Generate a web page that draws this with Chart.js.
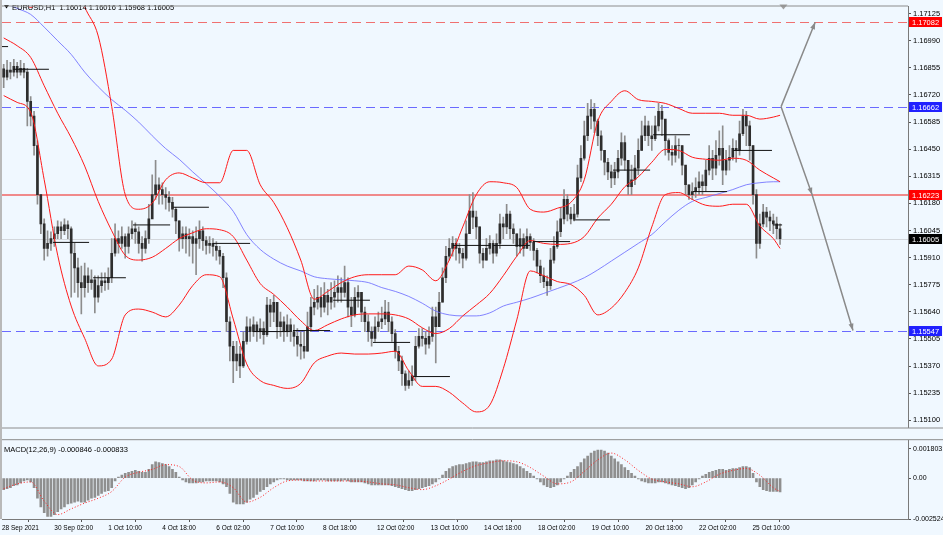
<!DOCTYPE html>
<html>
<head>
<meta charset="utf-8">
<title>EURUSD,H1</title>
<script src="https://cdn.jsdelivr.net/npm/chart.js@4.4.1/dist/chart.umd.min.js"></script>
<style>
  html, body { margin: 0; padding: 0; background: #f0f8ff; }
  #wrap { position: relative; width: 943px; height: 535px; overflow: hidden; background: #f0f8ff; }
  #wrap canvas { position: absolute; left: 0; }
  #priceChart { top: 0; }
  #macdChart { top: 434px; }
  #edge { position: absolute; left: 0; top: 0; width: 2px; height: 519px; background: #b9b9b9; }
</style>
</head>
<body>
<div id="wrap">
  <canvas id="priceChart" width="943" height="434"></canvas>
  <canvas id="macdChart" width="943" height="101"></canvas>
  <div id="edge"></div>
</div>
<script>
const closes = [
  1.16809, 1.16844, 1.16834, 1.16863, 1.16834, 1.16853, 1.16834, 1.16688, 1.16615, 1.16468,
  1.16224, 1.16078, 1.15956, 1.15981, 1.16005, 1.16029, 1.16063, 1.16044, 1.16073, 1.16054,
  1.15932, 1.15859, 1.15786, 1.15761, 1.15820, 1.15786, 1.15800, 1.15713, 1.15771, 1.15795,
  1.15786, 1.15810, 1.15932, 1.16005, 1.15981, 1.16015, 1.15966, 1.16029, 1.16054, 1.16039,
  1.15981, 1.15956, 1.16005, 1.16103, 1.16224, 1.16273, 1.16249, 1.16224, 1.16210, 1.16185,
  1.16151, 1.16093, 1.16005, 1.16029, 1.16005, 1.16015, 1.15981, 1.16005, 1.16044, 1.15995,
  1.15971, 1.15981, 1.15966, 1.15946, 1.15917, 1.15810, 1.15591, 1.15469, 1.15396, 1.15430,
  1.15371, 1.15493, 1.15566, 1.15542, 1.15576, 1.15542, 1.15557, 1.15527, 1.15674, 1.15639,
  1.15688, 1.15566, 1.15591, 1.15542, 1.15576, 1.15542, 1.15518, 1.15479, 1.15469, 1.15444,
  1.15566, 1.15664, 1.15688, 1.15713, 1.15664, 1.15722, 1.15688, 1.15713, 1.15737, 1.15761,
  1.15737, 1.15786, 1.15664, 1.15625, 1.15713, 1.15737, 1.15639, 1.15591, 1.15542, 1.15508,
  1.15566, 1.15591, 1.15605, 1.15639, 1.15591, 1.15532, 1.15444, 1.15396, 1.15332, 1.15274,
  1.15298, 1.15323, 1.15469, 1.15518, 1.15508, 1.15479, 1.15518, 1.15615, 1.15566, 1.15688,
  1.15810, 1.15917, 1.15956, 1.15981, 1.15956, 1.15932, 1.15908, 1.16029, 1.16142, 1.16112,
  1.16063, 1.15932, 1.15898, 1.15956, 1.15981, 1.15932, 1.15981, 1.16078, 1.16063, 1.16127,
  1.16054, 1.16029, 1.15966, 1.16005, 1.15956, 1.16015, 1.15986, 1.15946, 1.15868, 1.15820,
  1.15791, 1.15771, 1.15898, 1.15966, 1.16039, 1.16103, 1.16200, 1.16127, 1.16103, 1.16127,
  1.16307, 1.16405, 1.16517, 1.16615, 1.16649, 1.16590, 1.16517, 1.16444, 1.16385, 1.16337,
  1.16307, 1.16337, 1.16405, 1.16483, 1.16395, 1.16263, 1.16298, 1.16356, 1.16444, 1.16517,
  1.16566, 1.16517, 1.16502, 1.16566, 1.16639, 1.16600, 1.16493, 1.16434, 1.16420, 1.16468,
  1.16468, 1.16371, 1.16273, 1.16224, 1.16239, 1.16259, 1.16288, 1.16268, 1.16346, 1.16405,
  1.16356, 1.16420, 1.16454, 1.16346, 1.16395, 1.16410, 1.16454, 1.16444, 1.16527, 1.16615,
  1.16566, 1.16468, 1.16224, 1.15981, 1.16078, 1.16137, 1.16112, 1.16093, 1.16078, 1.16054, 1.16005
];
const highs = [
  1.16873, 1.16892, 1.16883, 1.16897, 1.16883, 1.16892, 1.16878, 1.16853, 1.16712, 1.16639,
  1.16493, 1.16224, 1.16103, 1.16044, 1.16039, 1.16063, 1.16093, 1.16088, 1.16103, 1.16093,
  1.16063, 1.15981, 1.15908, 1.15868, 1.15883, 1.15859, 1.15849, 1.15820, 1.15820, 1.15834,
  1.15834, 1.15859, 1.16005, 1.16078, 1.16044, 1.16063, 1.16029, 1.16063, 1.16093, 1.16083,
  1.16063, 1.16015, 1.16044, 1.16176, 1.16322, 1.16395, 1.16307, 1.16283, 1.16259, 1.16239,
  1.16210, 1.16161, 1.16093, 1.16063, 1.16063, 1.16054, 1.16044, 1.16063, 1.16093, 1.16063,
  1.16015, 1.16015, 1.16005, 1.15990, 1.15966, 1.15932, 1.15834, 1.15615, 1.15493, 1.15493,
  1.15469, 1.15542, 1.15615, 1.15605, 1.15615, 1.15591, 1.15605, 1.15591, 1.15713, 1.15703,
  1.15722, 1.15688, 1.15639, 1.15615, 1.15625, 1.15605, 1.15576, 1.15557, 1.15542, 1.15542,
  1.15639, 1.15713, 1.15752, 1.15771, 1.15761, 1.15786, 1.15752, 1.15786, 1.15795, 1.15820,
  1.15810, 1.15868, 1.15810, 1.15713, 1.15761, 1.15771, 1.15737, 1.15664, 1.15625, 1.15566,
  1.15615, 1.15639, 1.15664, 1.15698, 1.15688, 1.15615, 1.15552, 1.15469, 1.15420, 1.15347,
  1.15347, 1.15371, 1.15518, 1.15557, 1.15557, 1.15542, 1.15566, 1.15664, 1.15664, 1.15737,
  1.15859, 1.15966, 1.16005, 1.16015, 1.16005, 1.15981, 1.15956, 1.16093, 1.16224, 1.16234,
  1.16142, 1.16063, 1.15956, 1.16005, 1.16020, 1.15995, 1.16029, 1.16127, 1.16112, 1.16176,
  1.16142, 1.16078, 1.16029, 1.16054, 1.16029, 1.16054, 1.16029, 1.16005, 1.15956, 1.15898,
  1.15859, 1.15820, 1.15956, 1.16015, 1.16093, 1.16161, 1.16249, 1.16224, 1.16161, 1.16176,
  1.16371, 1.16468, 1.16590, 1.16678, 1.16697, 1.16678, 1.16600, 1.16541, 1.16444, 1.16405,
  1.16371, 1.16385, 1.16444, 1.16532, 1.16517, 1.16395, 1.16371, 1.16420, 1.16502, 1.16590,
  1.16615, 1.16590, 1.16566, 1.16615, 1.16678, 1.16668, 1.16590, 1.16502, 1.16468, 1.16517,
  1.16502, 1.16468, 1.16356, 1.16273, 1.16283, 1.16307, 1.16337, 1.16322, 1.16395, 1.16468,
  1.16444, 1.16493, 1.16541, 1.16566, 1.16444, 1.16468, 1.16502, 1.16493, 1.16590, 1.16649,
  1.16639, 1.16590, 1.16468, 1.16249, 1.16127, 1.16176, 1.16161, 1.16142, 1.16127, 1.16112, 1.16078
];
const lows = [
  1.16756, 1.16795, 1.16800, 1.16814, 1.16805, 1.16819, 1.16805, 1.16566, 1.16566, 1.16420,
  1.16176, 1.16029, 1.15898, 1.15917, 1.15946, 1.15966, 1.16005, 1.16005, 1.16024, 1.16005,
  1.15713, 1.15737, 1.15713, 1.15630, 1.15713, 1.15737, 1.15752, 1.15635, 1.15688, 1.15737,
  1.15747, 1.15752, 1.15786, 1.15917, 1.15932, 1.15956, 1.15908, 1.15932, 1.16005, 1.15981,
  1.15932, 1.15893, 1.15932, 1.15981, 1.16127, 1.16200, 1.16176, 1.16176, 1.16151, 1.16142,
  1.16112, 1.16029, 1.15942, 1.15956, 1.15932, 1.15917, 1.15883, 1.15825, 1.15956, 1.15946,
  1.15927, 1.15932, 1.15917, 1.15898, 1.15878, 1.15761, 1.15542, 1.15396, 1.15288, 1.15347,
  1.15313, 1.15362, 1.15479, 1.15493, 1.15518, 1.15493, 1.15508, 1.15479, 1.15518, 1.15566,
  1.15591, 1.15508, 1.15518, 1.15493, 1.15518, 1.15493, 1.15469, 1.15420, 1.15405, 1.15410,
  1.15444, 1.15542, 1.15625, 1.15654, 1.15615, 1.15639, 1.15625, 1.15654, 1.15664, 1.15688,
  1.15688, 1.15713, 1.15615, 1.15566, 1.15615, 1.15664, 1.15591, 1.15542, 1.15493, 1.15469,
  1.15493, 1.15542, 1.15557, 1.15576, 1.15542, 1.15493, 1.15410, 1.15347, 1.15274, 1.15249,
  1.15259, 1.15274, 1.15298, 1.15459, 1.15469, 1.15430, 1.15459, 1.15493, 1.15386, 1.15591,
  1.15688, 1.15786, 1.15898, 1.15917, 1.15898, 1.15883, 1.15859, 1.15898, 1.16044, 1.16054,
  1.16005, 1.15883, 1.15859, 1.15898, 1.15927, 1.15883, 1.15917, 1.15956, 1.16005, 1.16029,
  1.16005, 1.15981, 1.15917, 1.15932, 1.15917, 1.15956, 1.15946, 1.15898, 1.15834, 1.15786,
  1.15761, 1.15722, 1.15752, 1.15883, 1.15956, 1.16015, 1.16078, 1.16093, 1.16078, 1.16093,
  1.16112, 1.16288, 1.16395, 1.16493, 1.16551, 1.16532, 1.16468, 1.16395, 1.16322, 1.16298,
  1.16259, 1.16273, 1.16307, 1.16371, 1.16346, 1.16224, 1.16224, 1.16273, 1.16322, 1.16444,
  1.16493, 1.16468, 1.16444, 1.16493, 1.16541, 1.16517, 1.16420, 1.16395, 1.16371, 1.16385,
  1.16405, 1.16322, 1.16224, 1.16200, 1.16200, 1.16210, 1.16224, 1.16224, 1.16239, 1.16322,
  1.16298, 1.16322, 1.16371, 1.16273, 1.16322, 1.16346, 1.16395, 1.16385, 1.16420, 1.16517,
  1.16468, 1.16395, 1.16176, 1.15908, 1.15956, 1.16063, 1.16063, 1.16044, 1.16029, 1.16005, 1.15976
];
const firstOpen = 1.16850;

// indicator lines, read every 4th bar
const bandPos = [0,4,8,12,16,20,24,28,32,36,40,44,48,52,56,60,64,68,72,76,80,84,88,92,96,100,104,108,112,116,
  120,124,128,132,136,140,144,148,152,156,160,164,168,172,176,180,184,188,192,196,200,204,208,212,216,220,224,228,230];
const upperBand = [1.17282, 1.17234, 1.17156, 1.17224, 1.17336, 1.17370, 1.17160, 1.17014, 1.16663, 1.16224,
  1.16151, 1.16181, 1.16298, 1.16332, 1.16307, 1.16283, 1.16283, 1.16444, 1.16444, 1.16273,
  1.16185, 1.16059, 1.15898, 1.15703, 1.15742, 1.15786, 1.15815, 1.15825, 1.15825, 1.15825,
  1.15868, 1.15849, 1.15795, 1.15898, 1.16063, 1.16224, 1.16288, 1.16283, 1.16259, 1.16151,
  1.16137, 1.16156, 1.16185, 1.16298, 1.16590, 1.16688, 1.16741, 1.16697, 1.16688, 1.16678,
  1.16653, 1.16629, 1.16629, 1.16629, 1.16619, 1.16619, 1.16600, 1.16610, 1.16619];
const middleBand = [1.17004, 1.16965, 1.16907, 1.16766, 1.16629, 1.16507, 1.16366, 1.16190, 1.16044, 1.15922,
  1.15898, 1.15912, 1.15956, 1.16005, 1.16034, 1.16054, 1.16049, 1.16015, 1.15898, 1.15781,
  1.15727, 1.15664, 1.15596, 1.15547, 1.15576, 1.15605, 1.15625, 1.15630, 1.15630, 1.15625,
  1.15605, 1.15561, 1.15532, 1.15557, 1.15620, 1.15674, 1.15732, 1.15820, 1.15917, 1.15995,
  1.15981, 1.15976, 1.15981, 1.16015, 1.16107, 1.16176, 1.16263, 1.16312, 1.16385, 1.16449,
  1.16444, 1.16410, 1.16400, 1.16395, 1.16405, 1.16395, 1.16346, 1.16307, 1.16288];
const lowerBand = [1.16717, 1.16683, 1.16634, 1.16298, 1.15922, 1.15669, 1.15508, 1.15371, 1.15405, 1.15625,
  1.15654, 1.15639, 1.15615, 1.15674, 1.15771, 1.15825, 1.15815, 1.15605, 1.15381, 1.15298,
  1.15274, 1.15259, 1.15284, 1.15386, 1.15420, 1.15435, 1.15430, 1.15430, 1.15435, 1.15444,
  1.15347, 1.15269, 1.15269, 1.15240, 1.15186, 1.15142, 1.15176, 1.15357, 1.15600, 1.15844,
  1.15820, 1.15791, 1.15776, 1.15722, 1.15625, 1.15659, 1.15737, 1.15859, 1.16063, 1.16224,
  1.16234, 1.16200, 1.16171, 1.16166, 1.16176, 1.16176, 1.16068, 1.16005, 1.15956];
const maLine = [1.17180, 1.17151, 1.17121, 1.17058, 1.16990, 1.16922, 1.16834, 1.16761, 1.16697, 1.16644,
  1.16585, 1.16517, 1.16453, 1.16400, 1.16337, 1.16278, 1.16215, 1.16141, 1.16025, 1.15951,
  1.15903, 1.15868, 1.15844, 1.15815, 1.15805, 1.15800, 1.15795, 1.15786, 1.15761, 1.15742,
  1.15717, 1.15683, 1.15644, 1.15625, 1.15620, 1.15620, 1.15635, 1.15669, 1.15688, 1.15708,
  1.15732, 1.15756, 1.15781, 1.15810, 1.15849, 1.15893, 1.15937, 1.15981, 1.16025, 1.16088,
  1.16146, 1.16190, 1.16210, 1.16229, 1.16249, 1.16273, 1.16283, 1.16288, 1.16288];

// daily open segments (bar positions) and their level
const dayStart = [-0.5, 2.8, 14.6, 26.5, 38.3, 50.2, 62.0, 73.9, 85.7, 97.6, 109.4, 121.3, 133.1, 145.0, 156.8, 168.7, 180.5, 192.4, 204.2, 216.1, 227.9];
const dayEnd   = [1.3, 13.4, 25.3, 36.2, 49.3, 60.8, 73.0, 84.8, 96.7, 108.5, 120.4, 132.2, 144.1, 155.9, 167.8, 179.6, 191.5, 203.3, 214.3, 227.6, 230.6];
const dayOpen  = [1.16961, 1.16848, 1.15986, 1.15810, 1.16073, 1.16161, 1.15981, 1.15542, 1.15547, 1.15698, 1.15488,
  1.15318, 1.15971, 1.15971, 1.15990, 1.16098, 1.16346, 1.16522, 1.16239, 1.16444, 1.16073];

// horizontal levels and the drawn arrows
const levelPrices = [1.17082, 1.16662, 1.16223, 1.16005, 1.15547];
const arrowFromTime  = [230.3, 230.3, 239.5];
const arrowFromPrice = [1.16662, 1.16662, 1.16223];
const arrowToTime    = [240.4, 239.5, 251.6];
const arrowToPrice   = [1.17082, 1.16223, 1.15547];
const chartShiftTime = 231;

// MACD(12,26,9)
const macdHist = [
  -0.000712, -0.000652, -0.000593, -0.000474, -0.000415, -0.000297, -0.000178, -0.000119, -0.000237, -0.000593,
  -0.001245, -0.001779, -0.002135, -0.002372, -0.002372, -0.002253, -0.002076, -0.001898, -0.001779, -0.001601,
  -0.001542, -0.001483, -0.001423, -0.001483, -0.001483, -0.001364, -0.001245, -0.001186, -0.001067, -0.000949,
  -0.000830, -0.000771, -0.000593, -0.000178, 0.000059, 0.000178, 0.000297, 0.000356, 0.000415, 0.000474,
  0.000415, 0.000356, 0.000356, 0.000534, 0.000830, 0.001008, 0.000949, 0.000890, 0.000830, 0.000712,
  0.000534, 0.000356, 0.000059, -0.000119, -0.000237, -0.000297, -0.000297, -0.000297, -0.000237, -0.000237,
  -0.000178, -0.000178, -0.000178, -0.000178, -0.000237, -0.000356, -0.000534, -0.000949, -0.001483, -0.001601,
  -0.001601, -0.001601, -0.001483, -0.001305, -0.001186, -0.001008, -0.000830, -0.000712, -0.000534, -0.000356,
  -0.000237, -0.000119, -0.000059, -0.000059, -0.000119, -0.000119, -0.000119, -0.000119, -0.000119, -0.000178,
  -0.000178, -0.000178, -0.000178, -0.000119, -0.000119, -0.000119, -0.000178, -0.000178, -0.000178, -0.000178,
  -0.000178, -0.000119, -0.000178, -0.000237, -0.000237, -0.000237, -0.000237, -0.000297, -0.000356, -0.000415,
  -0.000415, -0.000415, -0.000415, -0.000415, -0.000415, -0.000474, -0.000534, -0.000593, -0.000652, -0.000712,
  -0.000771, -0.000771, -0.000712, -0.000652, -0.000593, -0.000534, -0.000474, -0.000356, -0.000237, -0.000059,
  0.000178, 0.000415, 0.000593, 0.000712, 0.000771, 0.000830, 0.000830, 0.000890, 0.000949, 0.001008,
  0.001008, 0.000949, 0.000949, 0.001008, 0.001067, 0.001067, 0.001126, 0.001126, 0.001067, 0.001008,
  0.000949, 0.000890, 0.000830, 0.000712, 0.000593, 0.000415, 0.000297, 0.000119, -0.000059, -0.000237,
  -0.000415, -0.000534, -0.000593, -0.000534, -0.000415, -0.000237, -0.000059, 0.000119, 0.000356, 0.000534,
  0.000712, 0.000949, 0.001186, 0.001364, 0.001542, 0.001660, 0.001720, 0.001720, 0.001660, 0.001542,
  0.001364, 0.001186, 0.001008, 0.000830, 0.000652, 0.000474, 0.000297, 0.000119, -0.000059, -0.000178,
  -0.000237, -0.000297, -0.000297, -0.000297, -0.000237, -0.000237, -0.000297, -0.000356, -0.000415, -0.000474,
  -0.000534, -0.000593, -0.000652, -0.000593, -0.000415, -0.000237, -0.000059, 0.000119, 0.000237, 0.000356,
  0.000415, 0.000474, 0.000534, 0.000534, 0.000474, 0.000534, 0.000593, 0.000593, 0.000652, 0.000712,
  0.000712, 0.000652, 0.000297, -0.000237, -0.000534, -0.000712, -0.000771, -0.000830, -0.000830, -0.000830, -0.000846
];
const macdSignal = [-0.000652, -0.000356, -0.000237, -0.001423, -0.002253, -0.001898, -0.001542, -0.001245, -0.000830, 0.000059,
  0.000356, 0.000534, 0.000830, 0.000712, -0.000119, -0.000297, -0.000237, -0.000593, -0.001483, -0.001186,
  -0.000593, -0.000178, -0.000119, -0.000178, -0.000178, -0.000178, -0.000178, -0.000237, -0.000356, -0.000415,
  -0.000593, -0.000712, -0.000474, -0.000059, 0.000415, 0.000771, 0.000949, 0.001067, 0.001008, 0.000652,
  0.000119, -0.000356, -0.000237, 0.000415, 0.001126, 0.001542, 0.001126, 0.000474, -0.000059, -0.000237,
  -0.000356, -0.000534, -0.000237, 0.000237, 0.000474, 0.000593, 0.000178, -0.000593, -0.000833];

// axes
const priceTicks = [1.17125, 1.16990, 1.16855, 1.16720, 1.16585, 1.16450, 1.16315, 1.16180, 1.16045,
  1.15910, 1.15775, 1.15640, 1.15505, 1.15370, 1.15235, 1.15100];
const macdTicks = [0.001803, 0, -0.002524];
const macdTickLabels = ['0.001803', '0.00', '-0.002524'];
const timeTickPos = [-0.5, 15, 31, 47, 63, 79, 94.6, 110.6, 126.5, 142.3, 158.3, 174.2, 190.1, 206, 221.8];
const timeLabels = ['28 Sep 2021', '30 Sep 02:00', '1 Oct 10:00', '4 Oct 18:00', '6 Oct 02:00', '7 Oct 10:00',
  '8 Oct 18:00', '12 Oct 02:00', '13 Oct 10:00', '14 Oct 18:00', '18 Oct 02:00', '19 Oct 10:00',
  '20 Oct 18:00', '22 Oct 02:00', '25 Oct 10:00'];
const headerText = 'EURUSD,H1  1.16014 1.16016 1.15968 1.16005';
const macdTitle = 'MACD(12,26,9) -0.000846 -0.000833';

// ---- styling ----
const FONT = '"Liberation Sans", Arial, sans-serif';
const X_MIN = -0.5, X_MAX = 267.9;
const levelStyle = [
  { color: '#f07070', width: 1, dash: [9, 5], box: '#ff0000' },
  { color: '#6a6aff', width: 1, dash: [9, 5], box: '#2020ff' },
  { color: 'rgba(240,110,110,0.8)', width: 2, dash: [], box: '#ff0000' },
  { color: '#d3d7dc', width: 1, dash: [], box: '#000000' },
  { color: '#6a6aff', width: 1, dash: [9, 5], box: '#2020ff' }
];

const wickData = highs.map((h, i) => ({ x: i, y: [lows[i], h] }));
const bodyData = closes.map((c, i) => ({ x: i, y: [i === 0 ? firstOpen : closes[i - 1], c] }));
const lineOf = arr => bandPos.map((x, i) => ({ x: x, y: arr[i] }));
const dayData = [];
dayStart.forEach((s, i) => {
  dayData.push({ x: s, y: dayOpen[i] }, { x: dayEnd[i], y: dayOpen[i] }, { x: dayEnd[i], y: null });
});
const arrowData = [];
arrowFromTime.forEach((t, i) => {
  arrowData.push({ x: t, y: arrowFromPrice[i] }, { x: arrowToTime[i], y: arrowToPrice[i] }, { x: arrowToTime[i], y: null });
});

function redLine(label, arr) {
  return { type: 'line', label: label, data: lineOf(arr), borderColor: '#ff1a1a', borderWidth: 1,
    pointRadius: 0, cubicInterpolationMode: 'monotone' };
}

const priceDecor = {
  id: 'priceDecor',
  beforeDatasetsDraw(chart) {
    const { ctx, chartArea: a, scales: { y } } = chart;
    ctx.save();
    levelPrices.forEach((p, i) => {
      const st = levelStyle[i];
      const py = Math.round(y.getPixelForValue(p)) + (st.width % 2 ? 0.5 : 0);
      ctx.strokeStyle = st.color;
      ctx.lineWidth = st.width;
      ctx.setLineDash(st.dash);
      ctx.beginPath(); ctx.moveTo(a.left, py); ctx.lineTo(a.right, py); ctx.stroke();
    });
    ctx.restore();
  },
  afterDatasetsDraw(chart) {
    const { ctx, chartArea: a, scales: { x, y } } = chart;
    ctx.save();
    // arrow heads
    ctx.fillStyle = '#8a8a8a';
    arrowToTime.forEach((t, i) => {
      const x1 = x.getPixelForValue(arrowFromTime[i]), y1 = y.getPixelForValue(arrowFromPrice[i]);
      const x2 = x.getPixelForValue(t), y2 = y.getPixelForValue(arrowToPrice[i]);
      const ang = Math.atan2(y2 - y1, x2 - x1);
      ctx.beginPath();
      ctx.moveTo(x2, y2);
      ctx.lineTo(x2 - 7 * Math.cos(ang) + 2.5 * Math.sin(ang), y2 - 7 * Math.sin(ang) - 2.5 * Math.cos(ang));
      ctx.lineTo(x2 - 7 * Math.cos(ang) - 2.5 * Math.sin(ang), y2 - 7 * Math.sin(ang) + 2.5 * Math.cos(ang));
      ctx.closePath(); ctx.fill();
    });
    // chart shift marker
    const sx = x.getPixelForValue(chartShiftTime);
    ctx.fillStyle = '#a0a0a0';
    ctx.beginPath(); ctx.moveTo(sx - 4, a.top - 2); ctx.lineTo(sx + 4, a.top - 2); ctx.lineTo(sx, a.top + 3); ctx.closePath(); ctx.fill();
    // header
    ctx.fillStyle = '#000';
    ctx.font = '7.5px ' + FONT;
    ctx.textBaseline = 'middle';
    ctx.beginPath(); ctx.moveTo(4, 5); ctx.lineTo(9, 5); ctx.lineTo(6.5, 8.5); ctx.closePath(); ctx.fill();
    ctx.fillText(headerText, 12, 7.5);
    ctx.restore();
  },
  afterDraw(chart) {
    const { ctx, chartArea: a, scales: { y } } = chart;
    ctx.save();
    ctx.strokeStyle = '#8c8c8c'; ctx.lineWidth = 1;
    ctx.beginPath();
    ctx.moveTo(a.left, a.top - 0.5); ctx.lineTo(a.right, a.top - 0.5);
    ctx.moveTo(a.left, a.bottom + 0.5); ctx.lineTo(a.right + 35, a.bottom + 0.5);
    ctx.stroke();
    ctx.font = '7.5px ' + FONT;
    ctx.textBaseline = 'middle';
    levelPrices.forEach((p, i) => {
      const py = Math.round(y.getPixelForValue(p));
      ctx.fillStyle = levelStyle[i].box;
      ctx.fillRect(a.right + 1, py - 5, 33, 10);
      ctx.fillStyle = '#fff';
      ctx.fillText(p.toFixed(5), a.right + 4, py + 0.5);
    });
    ctx.restore();
  }
};

new Chart(document.getElementById('priceChart'), {
  type: 'bar',
  data: {
    datasets: [
      { type: 'line', label: 'arrows', data: arrowData, borderColor: '#8a8a8a', borderWidth: 1.5, pointRadius: 0, spanGaps: false },
      { type: 'line', label: 'day open', data: dayData, borderColor: '#111', borderWidth: 1, pointRadius: 0, spanGaps: false },
      redLine('upper', upperBand),
      redLine('middle', middleBand),
      redLine('lower', lowerBand),
      { type: 'line', label: 'MA', data: lineOf(maLine), borderColor: 'rgba(110,110,255,0.85)', borderWidth: 1,
        pointRadius: 0, cubicInterpolationMode: 'monotone' },
      { label: 'body', data: bodyData, backgroundColor: '#2e2e2e', barThickness: 2, grouped: false },
      { label: 'wick', data: wickData, backgroundColor: '#8d8d8d', barThickness: 1, grouped: false }
    ]
  },
  options: {
    responsive: false,
    animation: false,
    devicePixelRatio: 1,
    layout: { padding: { left: 2, top: 3, right: 0, bottom: 1 } },
    plugins: { legend: { display: false }, tooltip: { enabled: false } },
    scales: {
      x: { type: 'linear', min: X_MIN, max: X_MAX, offset: false, display: false },
      y: {
        type: 'linear', position: 'right',
        min: 1.150643, max: 1.171606,
        afterBuildTicks: s => { s.ticks = priceTicks.map(v => ({ value: v })); },
        afterFit: s => { s.width = 35; },
        ticks: { callback: v => v.toFixed(5), font: { size: 7.5, family: FONT }, color: '#000', padding: 2, autoSkip: false },
        grid: { drawOnChartArea: false, drawTicks: true, tickLength: 3, color: '#555' },
        border: { display: true, color: '#7a7a7a' }
      }
    }
  },
  plugins: [priceDecor]
});

const macdDecor = {
  id: 'macdDecor',
  afterDraw(chart) {
    const { ctx, chartArea: a } = chart;
    ctx.save();
    ctx.strokeStyle = '#8c8c8c'; ctx.lineWidth = 1;
    ctx.beginPath(); ctx.moveTo(a.left, a.top - 0.5); ctx.lineTo(a.right + 35, a.top - 0.5); ctx.stroke();
    ctx.fillStyle = '#000';
    ctx.font = '7.5px ' + FONT;
    ctx.textBaseline = 'middle';
    ctx.fillText(macdTitle, 4, a.top + 10);
    ctx.restore();
  }
};

new Chart(document.getElementById('macdChart'), {
  type: 'bar',
  data: {
    datasets: [
      { type: 'line', label: 'signal', data: lineOf(macdSignal), borderColor: '#ff2020', borderWidth: 1,
        borderDash: [1, 2], pointRadius: 0, cubicInterpolationMode: 'monotone' },
      { label: 'MACD', data: macdHist.map((v, i) => ({ x: i, y: v })), backgroundColor: '#8f8f8f', barThickness: 2 }
    ]
  },
  options: {
    responsive: false,
    animation: false,
    devicePixelRatio: 1,
    layout: { padding: { left: 2, top: 3, right: 0, bottom: 0 } },
    plugins: { legend: { display: false }, tooltip: { enabled: false } },
    scales: {
      x: {
        type: 'linear', min: X_MIN, max: X_MAX, offset: false, position: 'bottom',
        afterBuildTicks: s => { s.ticks = timeTickPos.map(v => ({ value: v })); },
        afterFit: s => { s.height = 16; },
        ticks: { callback: (v, i) => timeLabels[i], align: 'start', maxRotation: 0, autoSkip: false,
          font: { size: 6.5, family: FONT }, color: '#000', padding: 2 },
        grid: { drawOnChartArea: false, drawTicks: true, tickLength: 3, color: '#555' },
        border: { display: true, color: '#7a7a7a' }
      },
      y: {
        type: 'linear', position: 'right',
        min: -0.002524, max: 0.002337,
        afterBuildTicks: s => { s.ticks = macdTicks.map(v => ({ value: v })); },
        afterFit: s => { s.width = 35; },
        ticks: { callback: (v, i) => macdTickLabels[i], font: { size: 7, family: FONT }, color: '#000', padding: 2, autoSkip: false },
        grid: { drawOnChartArea: false, drawTicks: true, tickLength: 3, color: '#555' },
        border: { display: true, color: '#7a7a7a' }
      }
    }
  },
  plugins: [macdDecor]
});
</script>
</body>
</html>
